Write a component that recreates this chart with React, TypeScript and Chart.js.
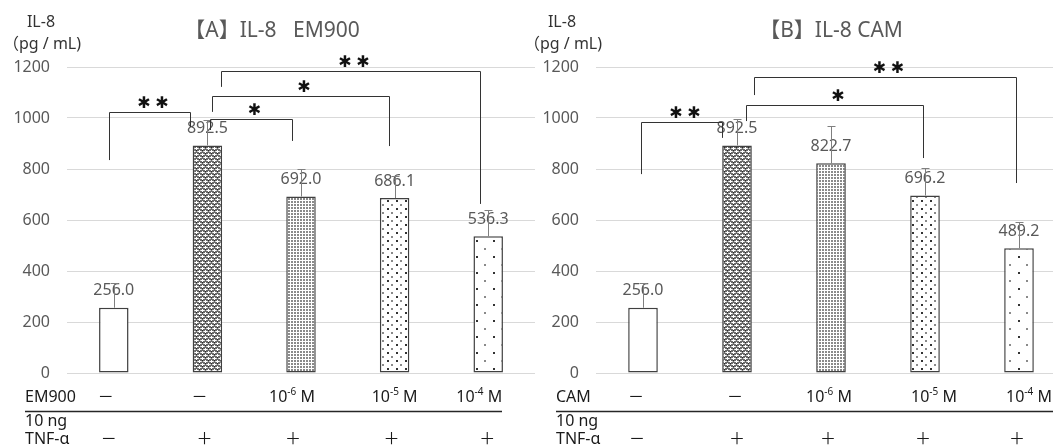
import React, { useEffect, useRef } from "react";
import { Chart, registerables } from "chart.js";
Chart.register(...registerables);

// ---------- data ----------
const groups = ["Control", "TNF-α", "10^-6 M", "10^-5 M", "10^-4 M"];
const yTicks = [0, 200, 400, 600, 800, 1000, 1200];

const emValues = [256.0, 892.5, 692.0, 686.1, 536.3];
const emErrors = [97, 100, 109, 88, 104];
const camValues = [256.0, 892.5, 822.7, 696.2, 489.2];
const camErrors = [97, 104, 146, 108, 103];

const doseRow = ["－", "－", "10^-6 M", "10^-5 M", "10^-4 M"];
const tnfRow = ["－", "＋", "＋", "＋", "＋"];

// brackets: category positions (fractional index), bracket top value, leg end values, mark
const emBrackets = [
  { from: -0.05, to: 0.81, top: 1024, leftEnd: 835, rightEnd: 965, mark: 2 },
  { from: 1.03, to: 1.9, top: 996, leftEnd: 953, rightEnd: 910, mark: 1 },
  { from: 1.05, to: 2.94, top: 1086, leftEnd: 1024, rightEnd: 890, mark: 1 },
  { from: 1.15, to: 3.91, top: 1184, leftEnd: 1122, rightEnd: 663, mark: 2 },
];
const camBrackets = [
  { from: -0.02, to: 0.84, top: 984, leftEnd: 780, rightEnd: 922, mark: 2 },
  { from: 1.1, to: 2.98, top: 1051, leftEnd: 988, rightEnd: 843, mark: 1 },
  { from: 1.18, to: 3.97, top: 1161, leftEnd: 1090, rightEnd: 745, mark: 2 },
];

const FONT = "'Noto Sans', 'Noto Sans CJK JP', sans-serif";

function makePattern(kind: number): CanvasPattern | string {
  if (kind === 0) return "#ffffff";
  const c = document.createElement("canvas");
  const g = c.getContext("2d")!;
  if (kind === 1) {
    c.width = 6; c.height = 6;
    g.fillStyle = "#6a6a6a"; g.fillRect(0, 0, 6, 6);
    g.fillStyle = "#ffffff";
    g.fillRect(0, 1, 3, 1); g.fillRect(1, 0, 1, 3);
    g.fillRect(3, 4, 3, 1); g.fillRect(4, 3, 1, 3);
    g.fillStyle = "#d0d0d0";
    g.fillRect(3, 1, 1, 1); g.fillRect(0, 4, 1, 1);
    g.fillRect(5, 1, 1, 1); g.fillRect(2, 4, 1, 1);
    g.fillStyle = "#2a2a2a";
    g.fillRect(4, 0, 1, 1); g.fillRect(1, 3, 1, 1);
  } else if (kind === 2) {
    c.width = 3; c.height = 3;
    g.fillStyle = "#ffffff"; g.fillRect(0, 0, 3, 3);
    g.fillStyle = "#8a8a8a"; g.fillRect(0, 0, 2, 2);
  } else if (kind === 3) {
    c.width = 9; c.height = 8;
    g.fillStyle = "#ffffff"; g.fillRect(0, 0, 9, 8);
    g.fillStyle = "#333333"; g.fillRect(0, 0, 2, 2);
    g.fillStyle = "#8a8a8a"; g.fillRect(4, 4, 2, 2);
  } else {
    c.width = 17; c.height = 16;
    g.fillStyle = "#ffffff"; g.fillRect(0, 0, 17, 16);
    g.fillStyle = "#333333"; g.fillRect(0, 0, 2, 2);
    g.fillStyle = "#8a8a8a"; g.fillRect(8, 8, 2, 2);
  }
  return g.createPattern(c, "repeat")!;
}

function drawSup(ctx: CanvasRenderingContext2D, text: string, cx: number, cy: number) {
  const m = text.match(/^(\d+)\^(-?\d+)(.*)$/);
  ctx.font = `16px ${FONT}`;
  if (!m) {
    ctx.textAlign = "center";
    ctx.fillText(text, cx, cy);
    return;
  }
  const w1 = ctx.measureText(m[1]).width;
  ctx.font = `10px ${FONT}`;
  const w2 = ctx.measureText(m[2]).width;
  ctx.font = `16px ${FONT}`;
  const w3 = ctx.measureText(m[3]).width;
  let x = cx - (w1 + w2 + w3) / 2;
  ctx.textAlign = "left";
  ctx.fillText(m[1], x, cy);
  x += w1;
  ctx.font = `10px ${FONT}`;
  ctx.fillText(m[2], x, cy - 5);
  x += w2;
  ctx.font = `16px ${FONT}`;
  ctx.fillText(m[3], x, cy);
}

function drawStar(ctx: CanvasRenderingContext2D, cx: number, cy: number) {
  ctx.save();
  ctx.font = `bold 16px 'DejaVu Sans'`;
  ctx.textAlign = "center";
  ctx.textBaseline = "middle";
  ctx.fillStyle = "#111";
  ctx.fillText("✱", cx, cy);
  ctx.restore();
}

const annot = {
  id: "annot",
  afterDatasetsDraw(chart: any, _args: any, o: any) {
    const ctx: CanvasRenderingContext2D = chart.ctx;
    const xs = chart.scales.x;
    const ys = chart.scales.y;
    const p0 = xs.getPixelForValue(0);
    const step = xs.getPixelForValue(1) - p0;
    const xAt = (i: number) => p0 + i * step;
    ctx.save();
    // data labels
    ctx.font = `16px ${FONT}`;
    ctx.fillStyle = "#595959";
    ctx.textAlign = "center";
    ctx.textBaseline = "middle";
    o.values.forEach((v: number, i: number) => {
      ctx.fillText(v.toFixed(1), xAt(i), ys.getPixelForValue(v) - 17);
    });
    // error bars
    ctx.strokeStyle = "#7f7f7f";
    ctx.lineWidth = 1;
    o.values.forEach((v: number, i: number) => {
      const x = Math.round(xAt(i)) + 0.5;
      const yb = ys.getPixelForValue(v);
      const yt = Math.round(ys.getPixelForValue(v + o.errors[i])) + 0.5;
      ctx.beginPath();
      ctx.moveTo(x, yb);
      ctx.lineTo(x, yt);
      ctx.moveTo(x - 4, yt);
      ctx.lineTo(x + 4, yt);
      ctx.stroke();
    });
    // brackets
    ctx.strokeStyle = "#333333";
    o.brackets.forEach((b: any) => {
      const x1 = Math.round(xAt(b.from)) + 0.5;
      const x2 = Math.round(xAt(b.to)) + 0.5;
      const yt = Math.round(ys.getPixelForValue(b.top)) + 0.5;
      ctx.beginPath();
      ctx.moveTo(x1, ys.getPixelForValue(b.leftEnd));
      ctx.lineTo(x1, yt);
      ctx.lineTo(x2, yt);
      ctx.lineTo(x2, ys.getPixelForValue(b.rightEnd));
      ctx.stroke();
      const cx = (x1 + x2) / 2 + 3;
      const cy = yt - 9;
      if (b.mark === 2) {
        drawStar(ctx, cx - 9, cy);
        drawStar(ctx, cx + 9, cy);
      } else {
        drawStar(ctx, cx, cy);
      }
    });
    // table
    ctx.fillStyle = "#1a1a1a";
    ctx.textBaseline = "middle";
    ctx.font = `16px ${FONT}`;
    ctx.textAlign = "left";
    ctx.fillText(o.rowLabel, o.tableLeft, 397);
    ctx.fillText("10 ng", o.tableLeft, 421);
    ctx.fillText("TNF-α", o.tableLeft, 439);
    doseRow.forEach((t, i) => drawSup(ctx, t, xAt(i) + o.off1[i], 397));
    tnfRow.forEach((t, i) => drawSup(ctx, t, xAt(i) + o.off2[i], 439));
    ctx.strokeStyle = "#262626";
    ctx.lineWidth = 1.5;
    ctx.beginPath();
    ctx.moveTo(o.tableLeft, 411.5);
    ctx.lineTo(o.tableRight, 411.5);
    ctx.stroke();
    // titles
    ctx.fillStyle = "#595959";
    ctx.font = `21px ${FONT}`;
    ctx.textAlign = "center";
    ctx.fillText(o.title, o.titleX, 31);
    ctx.fillStyle = "#333333";
    ctx.font = `16px ${FONT}`;
    ctx.fillText("IL-8", o.axisX, 22);
    ctx.fillText("（pg / mL)", o.axisX + 1, 44);
    ctx.restore();
  },
};

function Panel(props: {
  left: number;
  width: number;
  yWidth: number;
  values: number[];
  errors: number[];
  brackets: any[];
  cfg: any;
}) {
  const ref = useRef<HTMLCanvasElement>(null);
  useEffect(() => {
    const patterns = [0, 1, 2, 3, 4].map((k) => makePattern(k));
    const chart = new Chart(ref.current!, {
      type: "bar",
      data: {
        labels: groups,
        datasets: [
          {
            data: props.values,
            backgroundColor: patterns as any,
            borderColor: "#404040",
            borderWidth: 1.5,
            borderSkipped: false,
            barPercentage: 0.315,
            categoryPercentage: 1,
          },
        ],
      },
      options: {
        responsive: false,
        animation: false,
        devicePixelRatio: 1,
        layout: { padding: { top: 67, left: 0, right: 0, bottom: 0 } },
        plugins: {
          legend: { display: false },
          tooltip: { enabled: false },
          title: { display: false },
          annot: {
            values: props.values,
            errors: props.errors,
            brackets: props.brackets,
            ...props.cfg,
          },
        } as any,
        scales: {
          x: {
            grid: { display: false },
            border: { display: false },
            ticks: { display: false },
            afterFit: (s: any) => {
              s.height = 75;
            },
          },
          y: {
            min: 0,
            max: 1200,
            afterBuildTicks: (s: any) => {
              s.ticks = yTicks.map((v) => ({ value: v }));
            },
            ticks: {
              padding: 17,
              color: "#595959",
              font: { family: FONT, size: 16 },
              callback: (v: any) => String(v),
            },
            grid: { color: "#d9d9d9", lineWidth: 1, drawTicks: false },
            border: { display: false },
            afterFit: (s: any) => {
              s.width = props.yWidth;
            },
          },
        },
      },
      plugins: [annot as any],
    });
    return () => chart.destroy();
  }, []);
  return (
    <canvas
      ref={ref}
      width={props.width}
      height={448}
      style={{ position: "absolute", left: props.left, top: 0, width: props.width, height: 448 }}
    />
  );
}

export default function App() {
  return (
    <div
      style={{
        position: "fixed",
        left: 0,
        top: 0,
        width: 1053,
        height: 448,
        overflow: "hidden",
        background: "#ffffff",
      }}
    >
      <Panel
        left={0}
        width={535}
        yWidth={67}
        values={emValues}
        errors={emErrors}
        brackets={emBrackets}
        cfg={{
          title: "【A】IL-8   EM900",
          titleX: 272,
          axisX: 41,
          rowLabel: "EM900",
          tableLeft: 25,
          tableRight: 502,
          off1: [-8, -8, -9, 0, -9],
          off2: [-5, -3, -8, -3, -1],
        }}
      />
      <Panel
        left={525}
        width={541}
        yWidth={71}
        values={camValues}
        errors={camErrors}
        brackets={camBrackets}
        cfg={{
          title: "【B】IL-8 CAM",
          titleX: 306,
          axisX: 37,
          rowLabel: "CAM",
          tableLeft: 31,
          tableRight: 541,
          off1: [-7, -2, -2, 9, 10],
          off2: [-6, 0, -3, -2, -2],
        }}
      />
    </div>
  );
}
